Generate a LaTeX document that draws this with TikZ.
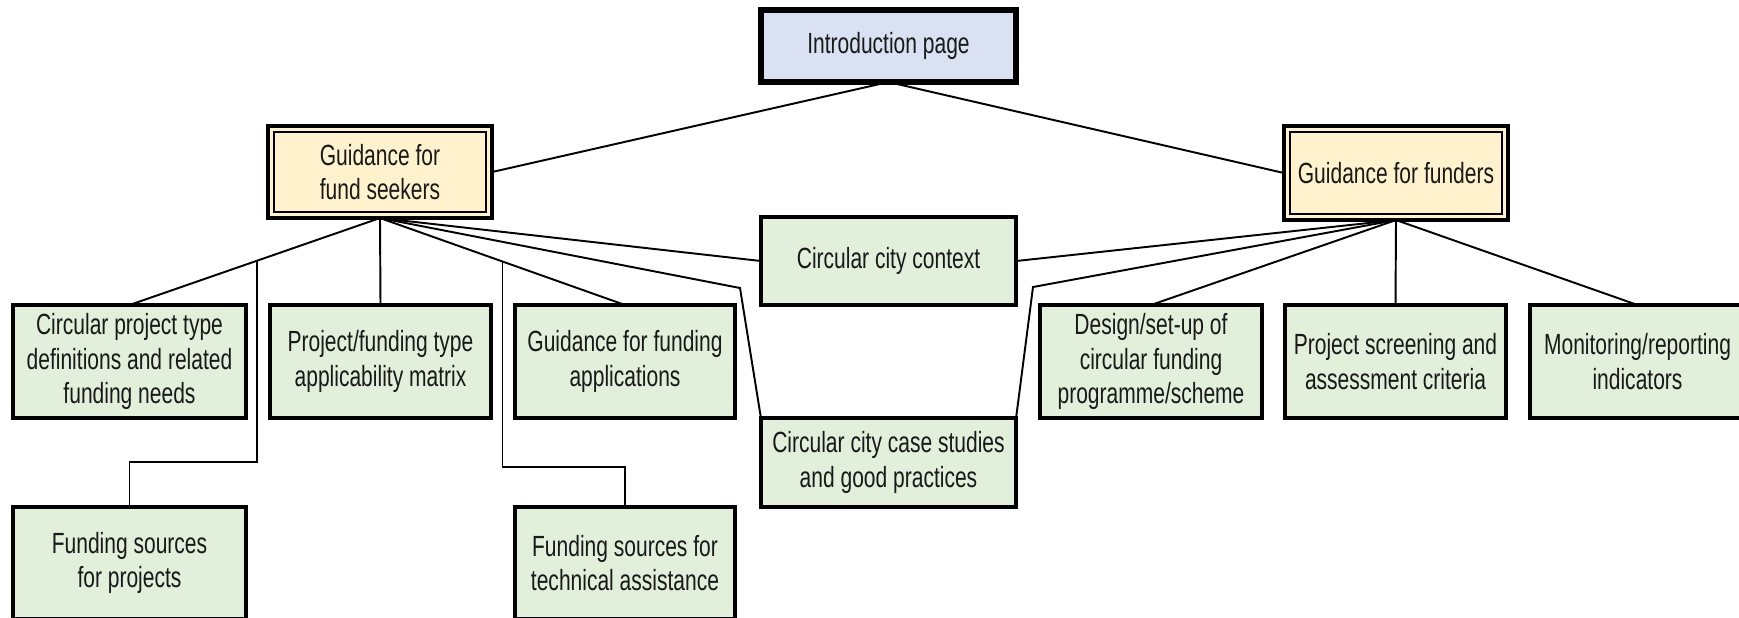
\documentclass[tikz,border=0pt]{standalone}
\usepackage{fontspec}
\setmainfont{Liberation Sans}[FakeStretch=0.72]
\usetikzlibrary{calc}
\definecolor{introfill}{RGB}{218,225,242}
\definecolor{guidefill}{RGB}{255,242,204}
\definecolor{leaffill}{RGB}{226,239,218}
\definecolor{inkc}{RGB}{25,25,25}
\tikzset{
  box/.style={draw=black, inner sep=0pt, outer sep=0pt, align=center,
    font=\fontsize{8.3}{9.8}\selectfont, text=inkc},
  introbox/.style={box, fill=introfill, line width=1.5pt},
  guidebox/.style={box, fill=guidefill, line width=1.1pt},
  leafbox/.style={box, fill=leaffill, line width=0.95pt},
  conn/.style={draw=black, line width=0.55pt},
  innerline/.style={draw=black, line width=0.45pt}
}
\begin{document}
\begin{tikzpicture}[x=0.01cm, y=-0.01cm]
\clip (0,0) rectangle (1739,617);
\fill[white] (0,0) rectangle (1739,617);

% top
\node[introbox, minimum width=2.55cm, minimum height=0.72cm] (intro) at (888.5,46) {Introduction page};
\node[guidebox, minimum width=2.24cm, minimum height=0.92cm] (seek) at (380,172) {Guidance for\\fund seekers};
\node[guidebox, minimum width=2.24cm, minimum height=0.94cm] (fund) at (1396,173) {Guidance for funders};
\draw[innerline] ([shift={(0.06cm,-0.06cm)}]seek.north west) rectangle ([shift={(-0.06cm,0.06cm)}]seek.south east);
\draw[innerline] ([shift={(0.06cm,-0.06cm)}]fund.north west) rectangle ([shift={(-0.06cm,0.06cm)}]fund.south east);

% middle column
\node[leafbox, minimum width=2.55cm, minimum height=0.88cm] (ctx) at (888.5,261) {Circular city context};
\node[leafbox, minimum width=2.55cm, minimum height=0.89cm] (case) at (888.5,462.5) {Circular city case studies\\and good practices};

% row 1 (seekers)
\node[leafbox, minimum width=2.33cm, minimum height=1.13cm] (defs) at (129.5,361.5) {Circular project type\\definitions and related\\funding needs};
\node[leafbox, minimum width=2.21cm, minimum height=1.13cm] (matrix) at (380.5,361.5) {Project/funding type\\applicability matrix};
\node[leafbox, minimum width=2.20cm, minimum height=1.13cm] (apps) at (625,361.5) {Guidance for funding\\applications};

% row 1 (funders)
\node[leafbox, minimum width=2.22cm, minimum height=1.13cm] (design) at (1151,361.5) {Design/set-up of\\circular funding\\programme/scheme};
\node[leafbox, minimum width=2.21cm, minimum height=1.13cm] (screen) at (1395.5,361.5) {Project screening and\\assessment criteria};
\node[leafbox, minimum width=2.15cm, minimum height=1.13cm] (monit) at (1637.5,361.5) {Monitoring/reporting\\indicators};

% row 2
\node[leafbox, minimum width=2.33cm, minimum height=1.12cm] (fsproj) at (129.5,563) {Funding sources\\for projects};
\node[leafbox, minimum width=2.20cm, minimum height=1.12cm] (fsta) at (625,563) {Funding sources for\\technical assistance};

% helper coordinates
\coordinate (bl1) at ($(seek.south)!0.49!(defs.north)$);
\coordinate (bl2) at ($(seek.south)!0.5!(apps.north)$);
\coordinate (hl1) at (0,462);
\coordinate (hl2) at (0,467);
\coordinate (kneeL) at (740,288);
\coordinate (kneeR) at (1033,287);

% connectors
\draw[conn] (intro.south) -- (seek.east);
\draw[conn] (intro.south) -- (fund.west);

\draw[conn] (seek.south) -- (defs.north);
\draw[conn] (seek.south) -- (matrix.north);
\draw[conn] (seek.south) -- (apps.north);
\draw[conn] (seek.south) -- (ctx.west);
\draw[conn] (seek.south) -- (kneeL) -- (case.north west);
\draw[conn] (bl1) -- (bl1 |- hl1) -| (fsproj.north);
\draw[conn] (bl2) -- (bl2 |- hl2) -| (fsta.north);

\draw[conn] (fund.south) -- (ctx.east);
\draw[conn] (fund.south) -- (kneeR) -- (case.north east);
\draw[conn] (fund.south) -- (design.north);
\draw[conn] (fund.south) -- (screen.north);
\draw[conn] (fund.south) -- (monit.north);
\end{tikzpicture}
\end{document}
